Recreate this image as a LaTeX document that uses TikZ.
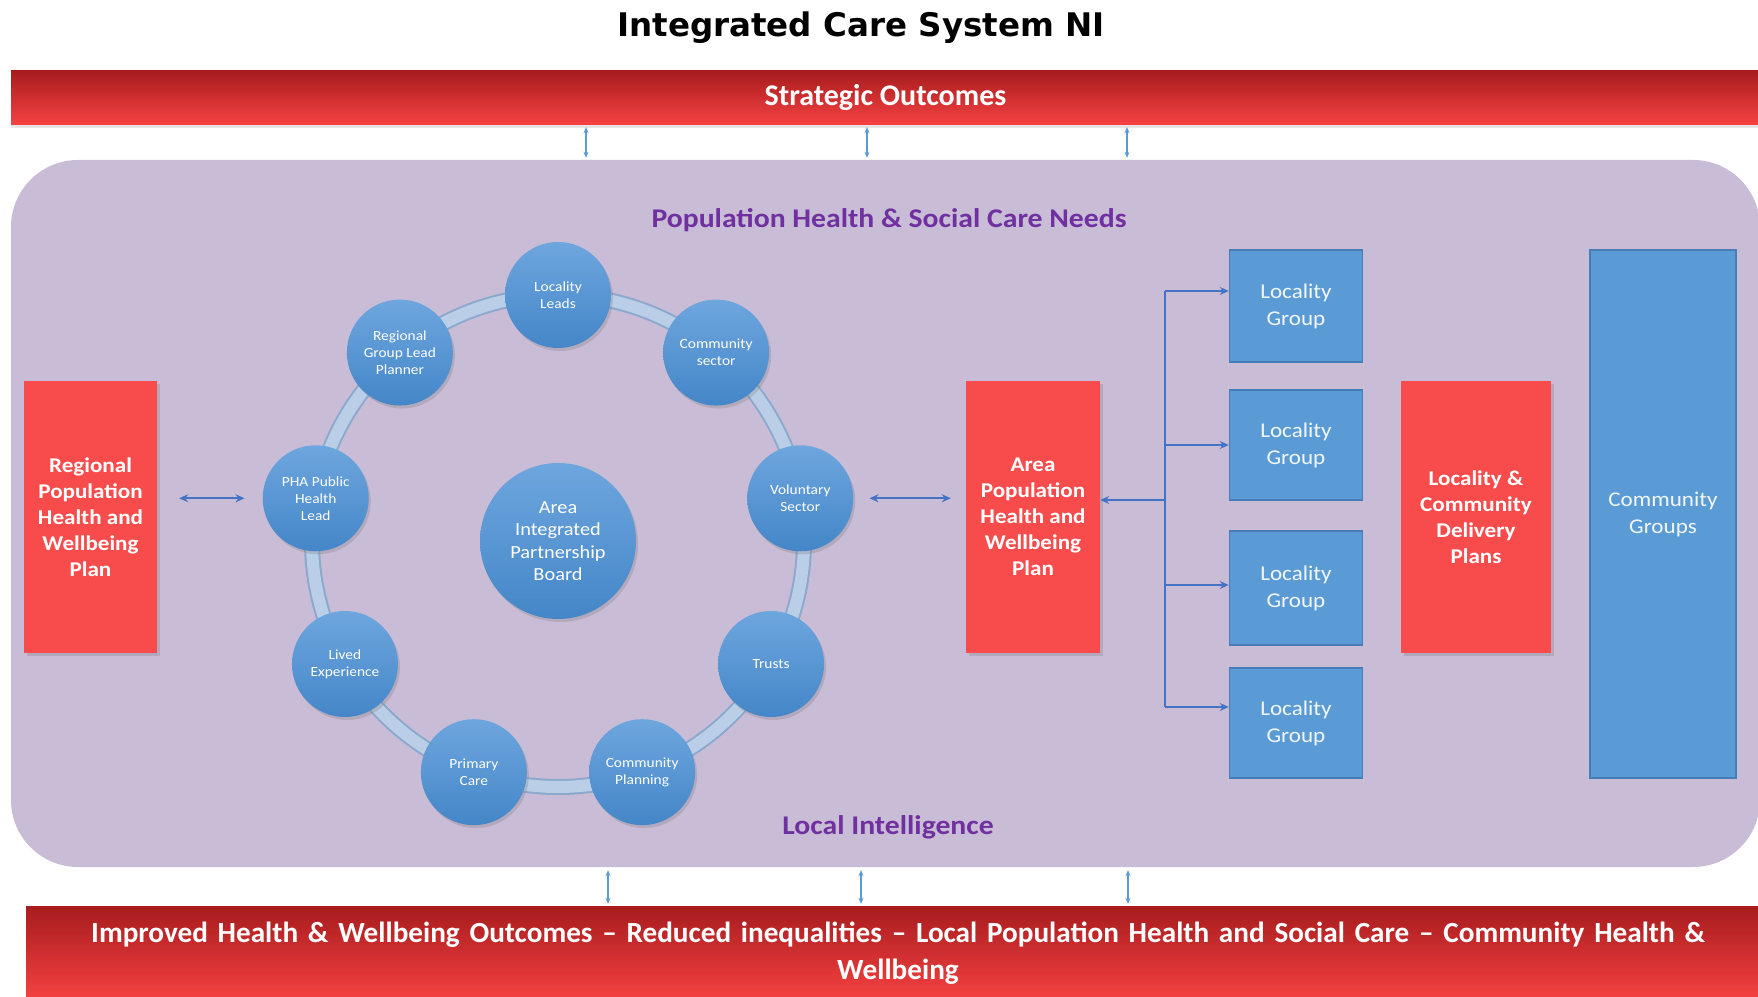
\documentclass[tikz,border=0pt]{standalone}
\usepackage{fontspec}
\setmainfont{Carlito}
\newfontfamily\boxfont[FakeStretch=1.1]{Carlito}
\newfontfamily\titlefont{DejaVu Sans}
\usepackage{tikz}
\usetikzlibrary{calc,positioning,shadows,arrows.meta}
\definecolor{bardark}{RGB}{168,28,30}
\definecolor{barlight}{RGB}{246,66,66}
\definecolor{plancol}{RGB}{248,76,76}
\definecolor{panelcol}{RGB}{201,188,214}
\definecolor{balltop}{RGB}{110,166,222}
\definecolor{ballbot}{RGB}{68,134,200}
\definecolor{ringcol}{RGB}{186,206,232}
\definecolor{ringedge}{RGB}{140,168,205}
\definecolor{groupcol}{RGB}{91,155,213}
\definecolor{groupedge}{RGB}{72,124,182}
\definecolor{purpcol}{RGB}{112,48,160}
\definecolor{linkcol}{RGB}{68,114,196}
\definecolor{tickcol}{RGB}{91,155,213}

\begin{document}
\begin{tikzpicture}[x=1pt,y=1pt,
  >={Stealth[length=9pt,width=8pt]},
  bar/.style={top color=bardark, bottom color=barlight, text=white, inner sep=0, align=center},
  plan/.style={fill=plancol, text=white, minimum width=133, minimum height=272, inner sep=0, align=center,
    font={\boxfont\bfseries\fontsize{21}{26}\selectfont}, drop shadow={shadow xshift=3pt, shadow yshift=-3pt, opacity=.3}},
  group/.style={fill=groupcol, draw=groupedge, line width=1.5, text=white!92!groupcol, minimum width=133, inner sep=0, align=center,
    font={\boxfont\fontsize{21}{27}\selectfont}},
  member/.style={circle, top color=balltop, bottom color=ballbot, text=white, minimum size=106, inner sep=0, align=center,
    font={\boxfont\fontsize{14}{17}\selectfont}, drop shadow={shadow xshift=2pt, shadow yshift=-3pt, opacity=.3}},
  link/.style={draw=linkcol, line width=2.2},
  tick/.style={draw=tickcol, line width=1.2, <->, >={Stealth[length=6pt,width=5pt]}},
  purp/.style={text=purpcol, font={\boxfont\bfseries\fontsize{27}{30}\selectfont}}]
\useasboundingbox (0,0) rectangle (1758,996);
\fill[white] (0,0) rectangle (1758,996);

\node (title) at (861,968) [font={\titlefont\bfseries\fontsize{32.5}{35}\selectfont}] {Integrated Care System NI};

\node (so) at (885.5,898) [bar, minimum width=1749, minimum height=54, font={\bfseries\fontsize{30}{32}\selectfont},
  drop shadow={shadow xshift=0pt, shadow yshift=-3pt, opacity=.2}] {Strategic Outcomes};
\node (panel) at (885.5,482.5) [fill=panelcol, rounded corners=67, minimum width=1749, minimum height=707] {};
\node (out) at (898,42.5) [bar, minimum width=1744, minimum height=95, text width=1720, font={\bfseries\fontsize{29.2}{37}\selectfont}]
  {Improved Health \& Wellbeing Outcomes -- Reduced inequalities -- Local Population Health and Social Care -- Community Health \&\\Wellbeing};

\draw[tick, shorten <=2, shorten >=2] ([xshift=-299.5]so.south) -- ([xshift=-299.5]panel.north);
\draw[tick, shorten <=2, shorten >=2] ([xshift=-18.5]so.south) -- ([xshift=-18.5]panel.north);
\draw[tick, shorten <=2, shorten >=2] ([xshift=241.5]so.south) -- ([xshift=241.5]panel.north);
\draw[tick, shorten <=3, shorten >=2] ([xshift=-277.5]panel.south) -- ([xshift=-290]out.north);
\draw[tick, shorten <=3, shorten >=2] ([xshift=-24.5]panel.south) -- ([xshift=-37]out.north);
\draw[tick, shorten <=3, shorten >=2] ([xshift=242.5]panel.south) -- ([xshift=230]out.north);

\node (needs) at (889,776) [purp] {Population Health \& Social Care Needs};
\node (intel) at (888,169) [purp] {Local Intelligence};

\node (rp) at (90.5,479) [plan] {Regional\\Population\\Health and\\Wellbeing\\Plan};

\coordinate (rc) at (558,455);
\draw[ringedge, line width=16] (rc) circle (246);
\draw[ringcol, line width=12] (rc) circle (246);

\node (apb) at (558,455) [member, minimum size=156, font={\boxfont\fontsize{18.5}{22.5}\selectfont}] {Area\\Integrated\\Partnership\\Board};
\node (ll) at ($(rc)+(90:246)$) [member] {Locality\\Leads};
\node (cs) at ($(rc)+(50:246)$) [member] {Community\\sector};
\node (vs) at ($(rc)+(10:246)$) [member] {Voluntary\\Sector};
\node (tr) at ($(rc)+(-30:246)$) [member] {Trusts};
\node (cp) at ($(rc)+(-70:246)$) [member] {Community\\Planning};
\node (pc) at ($(rc)+(-110:246)$) [member] {Primary\\Care};
\node (le) at ($(rc)+(-150:246)$) [member] {Lived\\Experience};
\node (pha) at ($(rc)+(170:246)$) [member] {PHA Public\\Health\\Lead};
\node (rg) at ($(rc)+(130:246)$) [member] {Regional\\Group Lead\\Planner};

\node (ap) at (1033,479) [plan, minimum width=134] {Area\\Population\\Health and\\Wellbeing\\Plan};
\node (lg1) at (1296,690) [group, minimum height=112] {Locality\\Group};
\node (lg2) at (1296,551) [group, minimum height=110] {Locality\\Group};
\node (lg3) at (1296,408) [group, minimum height=114] {Locality\\Group};
\node (lg4) at (1296,273) [group, minimum height=110] {Locality\\Group};
\node (dp) at (1476,479) [plan, minimum width=150] {Locality \&\\Community\\Delivery\\Plans};
\node (cg) at (1663,482) [group, minimum width=146, minimum height=528] {Community\\Groups};

\draw[link, <->, shorten <=22, shorten >=18] (rp.east |- pha.west) -- (pha.west);
\draw[link, <->, shorten <=16, shorten >=15] (vs.east) -- (ap.west |- vs.east);

\coordinate (jn) at (1165,496);
\coordinate (t1) at (1165,705);
\coordinate (t2) at (1165,551);
\coordinate (t3) at (1165,411);
\coordinate (t4) at (1165,289);
\draw[link] (t1) -- (t4);
\draw[link, ->] (jn) -- (ap.east |- jn);
\draw[link, ->] (t1) -- (lg1.west |- t1);
\draw[link, ->] (t2) -- (lg2.west |- t2);
\draw[link, ->] (t3) -- (lg3.west |- t3);
\draw[link, ->] (t4) -- (lg4.west |- t4);
\end{tikzpicture}
\end{document}
